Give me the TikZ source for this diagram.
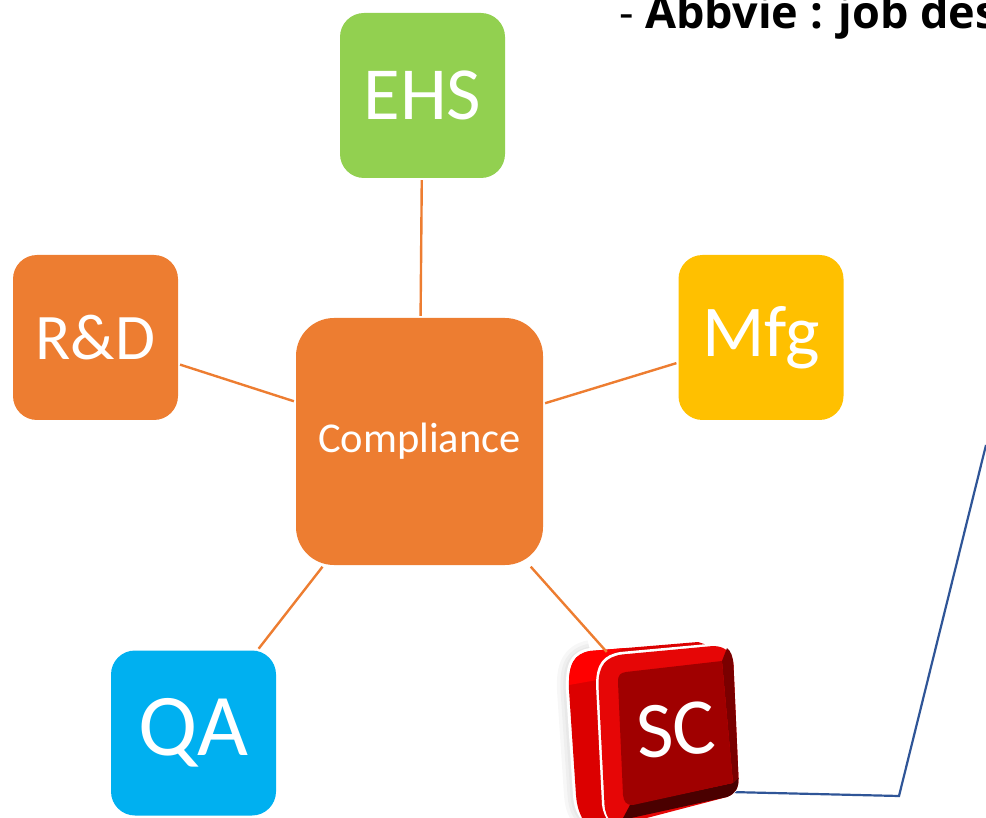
\documentclass[tikz,border=0pt]{standalone}
\usepackage{fontspec}
\setmainfont{Carlito}
\newfontfamily\headfont{Open Sans}
\usetikzlibrary{positioning}
\definecolor{ehsgreen}{HTML}{92D050}
\definecolor{rdorange}{HTML}{ED7D31}
\definecolor{mfgyellow}{HTML}{FFC000}
\definecolor{qablue}{HTML}{00B0F0}
\definecolor{linkblue}{HTML}{2F5597}
\definecolor{facered}{HTML}{A00000}
\definecolor{bevelred}{HTML}{E60606}
\definecolor{sidered}{HTML}{DC0000}
\definecolor{shadered}{HTML}{7A0000}
\definecolor{footred}{HTML}{4A0000}
\tikzset{
  dept/.style 2 args={fill=#1,text=white,rounded corners=24pt,minimum size=165pt,inner sep=0pt,font=\fontsize{#2}{#2}\selectfont},
  hub/.style={fill=rdorange,text=white,rounded corners=38pt,minimum size=247pt,inner sep=0pt,font=\fontsize{42.5}{42.5}\selectfont},
  link/.style={rdorange,line width=2.4pt}
}
\begin{document}
\begin{tikzpicture}[x=1pt,y=-1pt,on grid]
  \clip (0,0) rectangle (986,818);
  \useasboundingbox (0,0) rectangle (986,818);

  \node[hub] (comp) at (419.5,441.5) {Compliance};
  \node[dept={ehsgreen}{75}] (ehs) [above right=346pt and 3pt of comp] {EHS};
  \node[dept={rdorange}{65}] (rd) [above left=104pt and 324pt of comp] {R\&D};
  \node[dept={mfgyellow}{73}] (mfg) [above right=104pt and 341.5pt of comp] {Mfg};
  \node[dept={qablue}{88}] (qa) [below left=291.5pt and 226pt of comp] {QA};
  \node[anchor=base west,inner sep=0pt,font=\headfont\fontsize{45}{45}\selectfont] (head) at (619,29) {- \textbf{Abbvie : job des}};

  \coordinate (scout) at (730,792);
  \coordinate (bend) at (899,796);
  \coordinate (exit) at (986,445);

  \draw[linkblue,line width=2.2pt] (scout) -- (bend) -- (exit);

  % soft shadow on the left of the button
  \foreach \w in {20,13,7}
    \draw[black,opacity=.03,line width=\w pt,line join=round] (590,650) .. controls (572,654) and (566,665) .. (567,690) -- (574,795) .. controls (575,810) and (580,818) .. (590,825);

  % button: side block
  \fill[white] (566,690) .. controls (565,662) and (572,651) .. (590,648) -- (700,639.5) -- (715,643) -- (640,825) -- (585,825) .. controls (578,815) and (574,810) .. (573,795) -- cycle;
  \fill[sidered] (569,690) .. controls (568,664) and (574,654) .. (590,651) -- (698,642) -- (710,646) -- (640,825) -- (586,825) .. controls (580,815) and (577,808) .. (576,795) -- cycle;
  \fill[red] (569,685) .. controls (569,664) and (574,654) .. (590,651) -- (625,648) .. controls (607,654) and (598,665) .. (597,680) -- cycle;
  % button: front face
  \fill[white] (596,685) .. controls (596,663) and (604,655) .. (620,652) -- (713,643.5) .. controls (728,644) and (734,652) .. (735,665) -- (738,790) -- (725,800) -- (620,825) -- (612,825) .. controls (605,818) and (603,812) .. (602,805) -- cycle;
  \fill[bevelred] (598.5,685) .. controls (598.5,665) and (606,657) .. (622,654.5) -- (713,646) .. controls (726,646) and (733,654) .. (733.5,665) -- (738.5,778) .. controls (739,788) and (735,794) .. (727,797) -- (620,825) -- (614,825) .. controls (607,818) and (605,812) .. (604.5,805) -- cycle;
  \fill[shadered] (722,661) -- (727,648) .. controls (731,651) and (733,657) .. (733.5,665) -- (738.5,778) -- (733,783) -- cycle;
  \fill[footred] (630,805) -- (733,783) -- (738.5,778) .. controls (739,788) and (735,794) .. (727,797) -- (622,820) -- cycle;
  \fill[facered] (618,682) .. controls (618,675) and (620,673) .. (626,672) -- (722,661) -- (733,783) -- (633,805) .. controls (626,805) and (624,802) .. (623,795) -- cycle;
  \node[text=white,rotate=4,minimum size=165pt,inner sep=0pt,font=\fontsize{80}{80}\selectfont] (sc) [below right=288.5pt and 256.5pt of comp] {SC};

  \draw[link,shorten >=2pt,shorten <=2pt] (comp) -- (ehs);
  \draw[link,shorten >=2pt,shorten <=2pt] (comp) -- (rd);
  \draw[link,shorten >=2pt,shorten <=2pt] (comp) -- (mfg);
  \draw[link,shorten >=2pt,shorten <=2pt] (comp) -- (qa);
  \draw[link,shorten <=2pt] (comp) -- (sc);
\end{tikzpicture}
\end{document}
